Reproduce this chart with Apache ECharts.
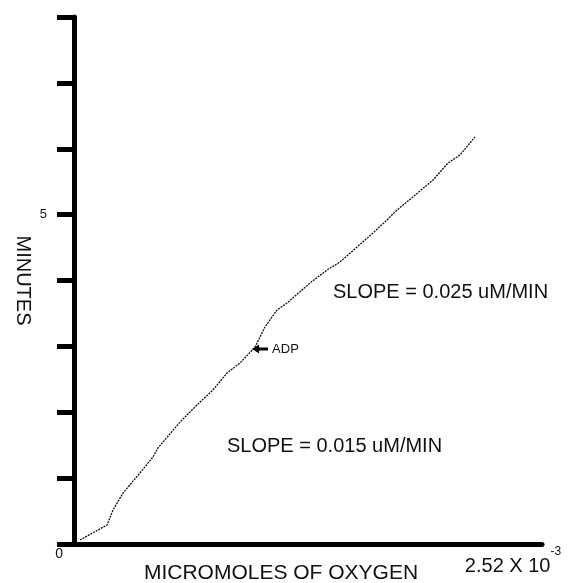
<!DOCTYPE html>
<html>
<head>
<meta charset="utf-8">
<script src="https://cdn.jsdelivr.net/npm/echarts@6/dist/echarts.min.js"></script>
<style>
html,body{margin:0;padding:0;background:#fff;}
#chart{width:568px;height:583px;}
</style>
</head>
<body>
<div id="chart"></div>
<script>
// Data (x: micromoles of oxygen in units of 10^-3, y: minutes)
var oxygenX = [0.032, 0.178, 0.210, 0.264, 0.355, 0.425, 0.452, 0.571, 0.662, 0.748, 0.824, 0.894, 0.975, 1.028, 1.093, 1.147, 1.271, 1.362, 1.432, 1.524, 1.610, 1.685, 1.739, 1.825, 1.933, 2.014, 2.078, 2.159];
var minutesY = [0.061, 0.288, 0.516, 0.774, 1.078, 1.321, 1.457, 1.852, 2.110, 2.338, 2.596, 2.748, 2.990, 3.294, 3.552, 3.658, 3.962, 4.159, 4.281, 4.508, 4.721, 4.918, 5.070, 5.268, 5.526, 5.784, 5.905, 6.178];
var adpPoint = [0.975, 2.99];
var xMin = 0, xMax = 2.52;
var yMin = 0, yMax = 8, yStep = 1;
var yTickLabels = {0: '0', 5: '5'};
var xMaxLabel = '2.52 X 10';
var xMaxExp = '-3';
var slopeLabels = ['SLOPE = 0.025 uM/MIN', 'SLOPE = 0.015 uM/MIN'];

var FONT = '"Liberation Sans", Arial, Helvetica, sans-serif';
var chart = echarts.init(document.getElementById('chart'), null, {renderer: 'canvas'});
var lineData = oxygenX.map(function (x, i) { return [x, minutesY[i]]; });

var option = {
  animation: false,
  backgroundColor: '#fff',
  grid: {left: 74, right: 26, top: 17, bottom: 39, containLabel: false, outerBoundsMode: 'none'},
  xAxis: {
    type: 'value', min: xMin, max: xMax, interval: xMax - xMin,
    name: 'MICROMOLES OF OXYGEN', nameLocation: 'middle', nameGap: 19, nameMoveOverlap: false,
    nameTextStyle: {fontFamily: FONT, fontSize: 21, color: '#111', padding: [0, 54, 0, 0]},
    axisLine: {show: true, lineStyle: {color: '#000', width: 5}},
    axisTick: {show: false},
    splitLine: {show: false},
    axisLabel: {
      show: true, margin: 2, alignMaxLabel: 'center', hideOverlap: false,
      formatter: function (v) { return v === xMax ? '{n|' + xMaxLabel + '}{s|' + xMaxExp + '}{p|}' : ''; },
      rich: {
        n: {fontFamily: FONT, fontSize: 20, color: '#111', padding: [10, 0, 0, 0]},
        s: {fontFamily: FONT, fontSize: 12, color: '#111', verticalAlign: 'top'},
        p: {width: 58}
      }
    }
  },
  yAxis: {
    type: 'value', min: yMin, max: yMax, interval: yStep,
    name: 'MINUTES', nameLocation: 'middle', nameGap: 41, nameRotate: -90, nameMoveOverlap: false,
    nameTextStyle: {fontFamily: FONT, fontSize: 20, color: '#111'},
    axisLine: {show: true, lineStyle: {color: '#000', width: 5}},
    axisTick: {show: true, length: 17, lineStyle: {color: '#000', width: 5}},
    splitLine: {show: false},
    axisLabel: {
      show: true, margin: 11,
      formatter: function (v) {
        if (yTickLabels[v] === undefined) return '';
        return v === 0 ? '{z|' + yTickLabels[v] + '}' : '{f|' + yTickLabels[v] + '}';
      },
      rich: {
        z: {fontFamily: FONT, fontSize: 14, color: '#111', padding: [20, 0, 0, 0]},
        f: {fontFamily: FONT, fontSize: 13, color: '#111', padding: [0, 16, 0, 0]}
      }
    }
  },
  series: [{
    type: 'line',
    data: lineData,
    showSymbol: false,
    symbol: 'none',
    smooth: false,
    lineStyle: {color: '#111', width: 1.3, type: [2, 1]},
    markPoint: {
      symbol: 'path://M0,4.5 L7,0 L7,3 L16,3 L16,6 L7,6 L7,9 Z',
      symbolSize: [16, 9],
      symbolKeepAspect: false,
      itemStyle: {color: '#000'},
      data: [{
        coord: adpPoint,
        symbolOffset: [5, 2],
        label: {show: true, position: 'right', distance: 4, formatter: 'ADP',
          fontFamily: FONT, fontSize: 13, color: '#111'}
      }]
    }
  }],
  graphic: [
    {type: 'text', left: 333, top: 282, style: {text: slopeLabels[0], font: '20px ' + FONT, fill: '#111'}},
    {type: 'text', left: 227, top: 436, style: {text: slopeLabels[1], font: '20px ' + FONT, fill: '#111'}}
  ]
};
chart.setOption(option);
</script>
</body>
</html>
